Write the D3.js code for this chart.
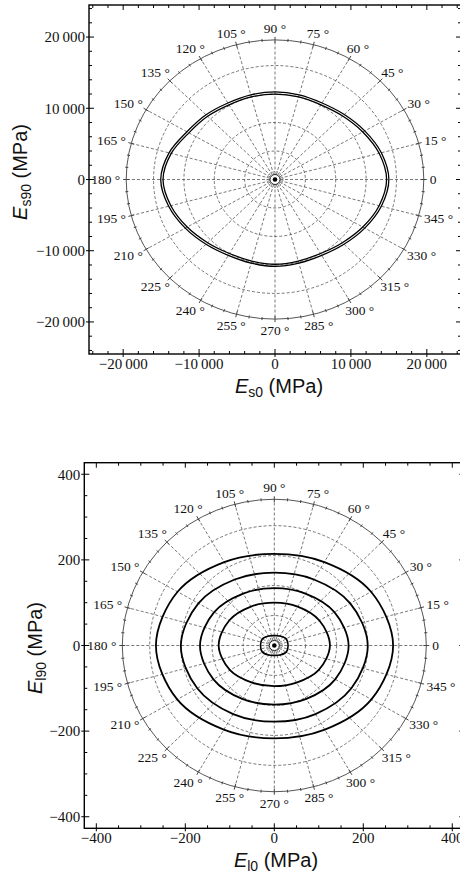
<!DOCTYPE html>
<html>
<head>
<meta charset="utf-8">
<script src="https://cdn.jsdelivr.net/npm/d3@7"></script>
<style>
body { margin: 0; background: #fff; }
</style>
</head>
<body>
<div id="my_viz"></div>
<script>
var width = 460,
    height = 873;

var anglesTop = [0, 15, 30, 45, 60, 75, 90, 105, 120, 135, 150, 165,
                 180, 195, 210, 225, 240, 255, 270, 285, 300, 315, 330, 345];
var es0Outer = [15000, 14500, 13650, 12900, 12400, 12300, 12300, 12300, 12400, 12850, 13400, 14450,
                15050, 14500, 13650, 12850, 12300, 12150, 12200, 12150, 12300, 12850, 13650, 14500];
var es0Inner = [14700, 14200, 13350, 12600, 12100, 12000, 12000, 12000, 12100, 12550, 13100, 14150,
                14750, 14200, 13350, 12550, 12000, 11850, 11900, 11850, 12000, 12550, 13350, 14200];

var anglesBottom = [0, 30, 60, 90, 120, 150, 180, 210, 240, 270, 300, 330];
var el1 = [267, 251, 225, 214, 225, 251, 266, 252, 227, 217, 227, 252];
var el2 = [210, 197, 178, 170, 178, 197, 210, 200, 185, 178, 185, 200];
var el3 = [167, 156, 140, 134, 140, 156, 167, 158, 144, 138, 144, 158];
var el4 = [125, 117, 105, 100, 105, 117, 125, 115, 100, 95, 100, 115];
var el5 = [31, 31, 25.5, 23, 25.5, 31, 31, 31, 25.5, 23, 25.5, 31];

var topTicks = [-20000, -10000, 0, 10000, 20000];
var bottomTicks = [-400, -200, 0, 200, 400];
var topGrid = [4000, 8000, 12000, 16000];
var bottomGrid = [70, 140, 210, 280];
var angleLabels = d3.range(0, 360, 15);

var rad = Math.PI / 180;

var svg = d3.select("#my_viz")
    .append("svg")
    .attr("width", width)
    .attr("height", height)
    .style("background", "white");

function fmtTop(d) {
    var s = d3.format(",")(Math.abs(d)).replace(/,/g, "\u2009");
    return (d < 0 ? "\u2212" : "") + s;
}
function fmtBottom(d) {
    return (d < 0 ? "\u2212" : "") + Math.abs(d);
}

function panel(cfg) {
    var x = cfg.x, y = cfg.y;
    var g = svg.append("g");
    var cx = x(0), cy = y(0);
    var R = cfg.R;
    var rxp = x(R) - cx, ryp = cy - y(R);

    // dashed grid circles
    g.selectAll(".gc").data(cfg.grid).enter().append("ellipse")
        .attr("cx", cx).attr("cy", cy)
        .attr("rx", function (d) { return x(d) - cx; })
        .attr("ry", function (d) { return cy - y(d); })
        .attr("fill", "none").attr("stroke", "#555")
        .attr("stroke-width", 0.8).attr("stroke-dasharray", "3,2");

    // spokes every 15 degrees
    g.selectAll(".sp").data(angleLabels).enter().append("line")
        .attr("x1", cx).attr("y1", cy)
        .attr("x2", function (d) { return x(R * Math.cos(d * rad)); })
        .attr("y2", function (d) { return y(R * Math.sin(d * rad)); })
        .attr("stroke", "#555").attr("stroke-width", 0.8).attr("stroke-dasharray", "3,2");

    // outer circle
    g.append("ellipse")
        .attr("cx", cx).attr("cy", cy).attr("rx", rxp).attr("ry", ryp)
        .attr("fill", "none").attr("stroke", "#555").attr("stroke-width", 1);

    // ticks on outer circle every 5 degrees
    g.selectAll(".ot").data(d3.range(0, 360, 5)).enter().append("line")
        .attr("x1", function (d) { var l = d % 15 ? 1.5 : 3; return cx + (rxp - l) * Math.cos(d * rad); })
        .attr("y1", function (d) { var l = d % 15 ? 1.5 : 3; return cy - (ryp - l) * Math.sin(d * rad); })
        .attr("x2", function (d) { var l = d % 15 ? 1.5 : 3; return cx + (rxp + l) * Math.cos(d * rad); })
        .attr("y2", function (d) { var l = d % 15 ? 1.5 : 3; return cy - (ryp + l) * Math.sin(d * rad); })
        .attr("stroke", "#444").attr("stroke-width", 1);

    // angle labels
    g.selectAll(".al").data(angleLabels).enter().append("text")
        .text(function (d) { return d === 0 ? "0" : d + " \u00b0"; })
        .attr("font-family", "Liberation Serif, serif")
        .attr("font-size", 13.5)
        .attr("fill", "#111")
        .attr("text-anchor", "middle")
        .attr("dominant-baseline", "central")
        .each(function (d) {
            var w = this.getComputedTextLength();
            var px = cx + rxp * Math.cos(d * rad), py = cy - ryp * Math.sin(d * rad);
            d3.select(this)
                .attr("x", px + Math.cos(d * rad) * (6 + w / 2))
                .attr("y", py - Math.sin(d * rad) * 11.5);
        });

    // center marker
    g.append("circle").attr("cx", cx).attr("cy", cy).attr("r", 8)
        .attr("fill", "none").attr("stroke", "#555").attr("stroke-width", 0.8).attr("stroke-dasharray", "1.5,1.5");
    g.append("circle").attr("cx", cx).attr("cy", cy).attr("r", 5)
        .attr("fill", "white").attr("stroke", "#222").attr("stroke-width", 1);
    g.append("circle").attr("cx", cx).attr("cy", cy).attr("r", 2.3).attr("fill", "black");

    // curves
    var line = d3.line()
        .x(function (d) { return x(d.r * Math.cos(d.a * rad)); })
        .y(function (d) { return y(d.r * Math.sin(d.a * rad)); })
        .curve(d3.curveCatmullRomClosed.alpha(0.5));

    cfg.curves.forEach(function (c) {
        var pts = c.angles.map(function (a, i) { return { a: a, r: c.values[i] }; });
        g.append("path").attr("d", line(pts))
            .attr("fill", "none").attr("stroke", "black").attr("stroke-width", c.w);
    });

    // frame
    var x0 = x.range()[0], x1 = x.range()[1], y0 = y.range()[0], y1 = y.range()[1];
    g.append("rect").attr("x", x0).attr("y", y1).attr("width", x1 - x0).attr("height", y0 - y1)
        .attr("fill", "none").attr("stroke", "black").attr("stroke-width", 1.4);

    var dom = x.domain();
    var minor = d3.range(Math.ceil(dom[0] / cfg.minor) * cfg.minor, dom[1], cfg.minor)
        .filter(function (d) { return cfg.ticks.indexOf(d) < 0; });
    var all = cfg.ticks.concat(minor);
    function isMajor(d) { return cfg.ticks.indexOf(d) >= 0; }

    // bottom and top frame ticks
    g.selectAll(".xb").data(all).enter().append("line")
        .attr("x1", function (d) { return x(d); }).attr("x2", function (d) { return x(d); })
        .attr("y1", function (d) { return y0 + (isMajor(d) ? 3 : 0); })
        .attr("y2", function (d) { return y0 - (isMajor(d) ? 5 : 3); })
        .attr("stroke", "black").attr("stroke-width", 1);
    g.selectAll(".xt").data(all).enter().append("line")
        .attr("x1", function (d) { return x(d); }).attr("x2", function (d) { return x(d); })
        .attr("y1", y1)
        .attr("y2", function (d) { return y1 + (isMajor(d) ? 5 : 3); })
        .attr("stroke", "black").attr("stroke-width", 1);
    // left and right frame ticks
    g.selectAll(".yl").data(all).enter().append("line")
        .attr("y1", function (d) { return y(d); }).attr("y2", function (d) { return y(d); })
        .attr("x1", function (d) { return x0 - (isMajor(d) ? 3 : 0); })
        .attr("x2", function (d) { return x0 + (isMajor(d) ? 5 : 3); })
        .attr("stroke", "black").attr("stroke-width", 1);
    g.selectAll(".yr").data(all).enter().append("line")
        .attr("y1", function (d) { return y(d); }).attr("y2", function (d) { return y(d); })
        .attr("x1", x1)
        .attr("x2", function (d) { return x1 - (isMajor(d) ? 5 : 3); })
        .attr("stroke", "black").attr("stroke-width", 1);

    // tick labels
    g.selectAll(".xl").data(cfg.ticks).enter().append("text")
        .text(cfg.fmt)
        .attr("x", function (d) { return x(d); })
        .attr("y", y0 + 14.5)
        .attr("text-anchor", "middle")
        .attr("font-family", "Liberation Serif, serif")
        .attr("font-size", 15).attr("fill", "#111");
    g.selectAll(".yl2").data(cfg.ticks).enter().append("text")
        .text(cfg.fmt)
        .attr("x", x0 - 4)
        .attr("y", function (d) { return y(d); })
        .attr("dy", "0.35em")
        .attr("text-anchor", "end")
        .attr("font-family", "Liberation Serif, serif")
        .attr("font-size", 15).attr("fill", "#111");

    // axis titles
    function title(sel, sub) {
        sel.attr("font-family", "Liberation Sans, Arial, sans-serif").attr("font-size", 20).attr("fill", "#111");
        sel.append("tspan").text("E").attr("font-style", "italic");
        sel.append("tspan").text(sub).attr("font-size", 14).attr("dy", 4);
        sel.append("tspan").text(" (MPa)").attr("dy", -4);
    }
    title(g.append("text").attr("x", cfg.xTitle[0]).attr("y", cfg.xTitle[1]).attr("text-anchor", "middle"), cfg.xSub);
    title(g.append("text").attr("text-anchor", "middle")
        .attr("transform", "translate(" + cfg.yTitle[0] + "," + cfg.yTitle[1] + ") rotate(-90)"), cfg.ySub);
}

panel({
    x: d3.scaleLinear().domain([-24500, 24500]).range([89, 461]),
    y: d3.scaleLinear().domain([-24500, 24500]).range([354, 5]),
    R: 19600,
    grid: topGrid,
    ticks: topTicks,
    minor: 2000,
    fmt: fmtTop,
    curves: [
        { angles: anglesTop, values: es0Outer, w: 1.3 },
        { angles: anglesTop, values: es0Inner, w: 1.3 }
    ],
    xTitle: [279, 393], xSub: "s0",
    yTitle: [27, 172], ySub: "s90"
});

panel({
    x: d3.scaleLinear().domain([-427, 427]).range([84.3, 464.3]),
    y: d3.scaleLinear().domain([-427, 427]).range([828.3, 462.7]),
    R: 341.6,
    grid: bottomGrid,
    ticks: bottomTicks,
    minor: 50,
    fmt: fmtBottom,
    curves: [
        { angles: anglesBottom, values: el1, w: 1.8 },
        { angles: anglesBottom, values: el2, w: 1.8 },
        { angles: anglesBottom, values: el3, w: 1.8 },
        { angles: anglesBottom, values: el4, w: 1.8 },
        { angles: anglesBottom, values: el5, w: 1.6 }
    ],
    xTitle: [276, 867], xSub: "l0",
    yTitle: [42, 648], ySub: "l90"
});
</script>
</body>
</html>
